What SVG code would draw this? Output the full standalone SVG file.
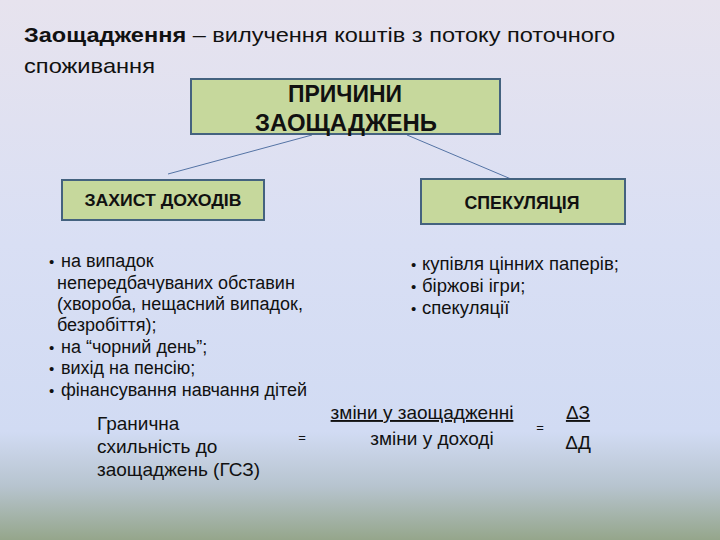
<svg xmlns="http://www.w3.org/2000/svg" width="720" height="540" viewBox="0 0 720 540">
<defs>
<linearGradient id="bg" x1="0" y1="0" x2="0" y2="1">
<stop offset="0" stop-color="#e7e3ee"/>
<stop offset="0.45" stop-color="#d9dff4"/>
<stop offset="0.8" stop-color="#d1dbf3"/>
<stop offset="0.9" stop-color="#b7c4cf"/>
<stop offset="1" stop-color="#95a68b"/>
</linearGradient>
<style>
text{font-family:"Liberation Sans",Arial,sans-serif;fill:#111}
.box{fill:#c6d89c;stroke:#44627f;stroke-width:2}
.hdr{font-weight:bold;text-anchor:middle}
.bl{font-size:18px}
.fm{font-size:19px}
.conn line{stroke:#5473a4;stroke-width:1}
</style>
</defs>
<rect width="720" height="540" fill="url(#bg)"/>
<g id="title">
<text x="24" y="42" font-size="21" textLength="591" lengthAdjust="spacingAndGlyphs"><tspan font-weight="bold">Заощадження</tspan> – вилучення коштів з потоку поточного</text>
<text x="24" y="73" font-size="21" textLength="131" lengthAdjust="spacingAndGlyphs">споживання</text>
</g>
<g class="conn" id="connectors">
<line x1="312" y1="135" x2="168" y2="174"/>
<line x1="407" y1="135" x2="511" y2="179"/>
</g>
<g id="reasons">
<rect class="box" x="191" y="79" width="309" height="55"/>
<text class="hdr" x="345" y="102" font-size="23" textLength="114" lengthAdjust="spacingAndGlyphs">ПРИЧИНИ</text>
<text class="hdr" x="346" y="131" font-size="23" textLength="182" lengthAdjust="spacingAndGlyphs">ЗАОЩАДЖЕНЬ</text>
</g>
<g id="income">
<rect class="box" x="62" y="180" width="202" height="40"/>
<text class="hdr" x="163" y="206" font-size="17" textLength="157" lengthAdjust="spacingAndGlyphs">ЗАХИСТ ДОХОДІВ</text>
</g>
<g id="spec">
<rect class="box" x="421" y="179" width="204" height="45"/>
<text class="hdr" x="522" y="209" font-size="17.5" textLength="115" lengthAdjust="spacingAndGlyphs">СПЕКУЛЯЦІЯ</text>
</g>
<g id="left-list" class="bl">
<text x="49" y="267" font-size="15">•</text><text x="61" y="267">на випадок</text>
<text x="57" y="289">непередбачуваних обставин</text>
<text x="57" y="310">(хвороба, нещасний випадок,</text>
<text x="57" y="331">безробіття);</text>
<text x="49" y="353" font-size="15">•</text><text x="61" y="353">на “чорний день”;</text>
<text x="49" y="374" font-size="15">•</text><text x="61" y="374">вихід на пенсію;</text>
<text x="49" y="396" font-size="15">•</text><text x="61" y="396">фінансування навчання дітей</text>
</g>
<g id="right-list" class="bl">
<text x="411" y="270" font-size="15">•</text><text x="422" y="270" font-size="18.5">купівля цінних паперів;</text>
<text x="411" y="292" font-size="15">•</text><text x="422" y="292" font-size="18.5">біржові ігри;</text>
<text x="411" y="314" font-size="15">•</text><text x="422" y="314" font-size="18.5">спекуляції</text>
</g>
<g id="formula" class="fm">
<text x="97" y="430">Гранична</text>
<text x="97" y="453">схильність до</text>
<text x="97" y="476">заощаджень (ГСЗ)</text>
<text x="302" y="442" font-size="13" text-anchor="middle">=</text>
<text x="422" y="419" text-anchor="middle" text-decoration="underline">зміни у заощадженні</text>
<text x="432" y="445" text-anchor="middle">зміни у доході</text>
<text x="540" y="432" font-size="13" text-anchor="middle">=</text>
<text x="578" y="419" text-anchor="middle" text-decoration="underline">ΔЗ</text>
<text x="578" y="449" text-anchor="middle">ΔД</text>
</g>
</svg>
